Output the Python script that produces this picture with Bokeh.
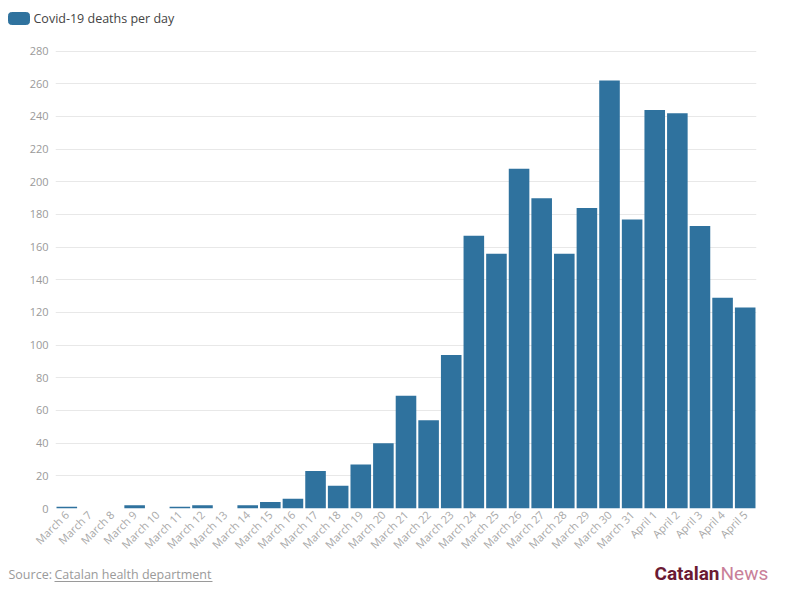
from math import pi

from bokeh.plotting import figure
from bokeh.layouts import column
from bokeh.models import FactorRange, Range1d, FixedTicker
from bokeh.core.properties import value
from bokeh.embed import file_html
from bokeh.resources import INLINE

days = ["March 6", "March 7", "March 8", "March 9", "March 10", "March 11",
        "March 12", "March 13", "March 14", "March 15", "March 16", "March 17",
        "March 18", "March 19", "March 20", "March 21", "March 22", "March 23",
        "March 24", "March 25", "March 26", "March 27", "March 28", "March 29",
        "March 30", "March 31", "April 1", "April 2", "April 3", "April 4",
        "April 5"]
deaths = [1, 0, 0, 2, 0, 1, 2, 0, 2, 4, 6, 23, 14, 27, 40, 69, 54, 94,
          167, 156, 208, 190, 156, 184, 262, 177, 244, 242, 173, 129, 123]
y_ticks = list(range(0, 281, 20))

FONT = "Open Sans"
BAR = "#2f729e"
GREY = "#9a9a9a"
W = 775


def blank(height):
    # a figure whose frame is the whole canvas, x left->right and y top->bottom in px
    f = figure(width=W, height=height, x_range=Range1d(0, W), y_range=Range1d(height, 0),
               output_backend="svg", toolbar_location=None, min_border=0)
    f.axis.visible = False
    f.grid.visible = False
    f.outline_line_color = None
    return f


# header with legend
head = blank(40)
head.quad(left=[8], right=[29], top=[12], bottom=[24], color=BAR, border_radius=3)
head.text(x=[33], y=[18], text=["Covid-19 deaths per day"], text_font=value(FONT),
          text_font_size="12.5px", text_color="#444444", text_baseline="middle")

# main chart
p = figure(x_range=FactorRange(*days, range_padding=0), y_range=Range1d(0, 281),
           width=W, height=520, output_backend="svg", toolbar_location=None,
           min_border_left=55, min_border_right=19, min_border_top=9,
           min_border_bottom=50)
p.outline_line_color = None

p.vbar(x=days, top=deaths, width=0.91, color=BAR, line_color=None)

p.xgrid.grid_line_color = None
p.ygrid.grid_line_color = "#e8e8e8"
p.ygrid.ticker = FixedTicker(ticks=y_ticks)

p.yaxis.ticker = FixedTicker(ticks=y_ticks)
p.yaxis.axis_line_color = None
p.yaxis.major_tick_line_color = None
p.yaxis.minor_tick_line_color = None
p.yaxis.major_tick_out = 0
p.yaxis.major_label_text_color = GREY
p.yaxis.major_label_text_font = FONT
p.yaxis.major_label_text_font_size = "11px"
p.yaxis.major_label_standoff = 7

p.xaxis.axis_line_color = None
p.xaxis.major_tick_line_color = None
p.xaxis.major_tick_out = 0
p.xaxis.major_tick_in = 0
p.xaxis.major_label_orientation = pi / 4
p.xaxis.major_label_text_color = "#a8a8a8"
p.xaxis.major_label_text_font = FONT
p.xaxis.major_label_text_font_size = "11px"
p.xaxis.major_label_standoff = 4

# footer with source and logo
foot = blank(40)
foot.text(x=[8], y=[14], text=["Source:"], text_font=value(FONT),
          text_font_size="12.5px", text_color=GREY, text_baseline="middle")
foot.text(x=[54], y=[14], text=["Catalan health department"], text_font=value(FONT),
          text_font_size="12.5px", text_color=GREY, text_baseline="middle")
foot.segment(x0=[54], y0=[21], x1=[212], y1=[21], line_color=GREY, line_width=1)
foot.text(x=[719], y=[13], text=["Catalan"], text_font=value("Roboto"),
          text_font_style="bold", text_font_size="19px", text_color="#6b1a33",
          text_align="right", text_baseline="middle")
foot.text(x=[720], y=[13], text=["News"], text_font=value("Roboto"),
          text_font_size="19px", text_color="#c97f99", text_baseline="middle")

layout = column(column(head), p, column(foot), spacing=0)
open("out.html", "w").write(file_html(layout, INLINE))
